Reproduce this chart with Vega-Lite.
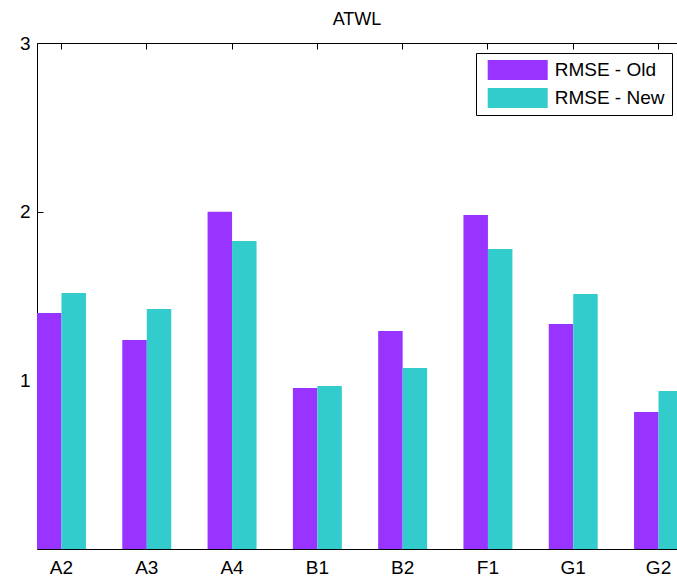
{
  "$schema": "https://vega.github.io/schema/vega-lite/v6.json",
  "width": 640,
  "height": 506,
  "autosize": {"type": "none"},
  "padding": {"left": 37, "top": 43, "right": 0, "bottom": 30},
  "background": "white",
  "title": {"text": "ATWL", "fontSize": 18, "fontWeight": "normal", "font": "Liberation Sans", "color": "black", "offset": 5},
  "config": {
    "view": {"stroke": null},
    "font": "Liberation Sans"
  },
  "data": {
    "values": [
      {"site": "A2", "series": "RMSE - Old", "value": 1.399},
      {"site": "A2", "series": "RMSE - New", "value": 1.518},
      {"site": "A3", "series": "RMSE - Old", "value": 1.239},
      {"site": "A3", "series": "RMSE - New", "value": 1.423},
      {"site": "A4", "series": "RMSE - Old", "value": 2.0},
      {"site": "A4", "series": "RMSE - New", "value": 1.826},
      {"site": "B1", "series": "RMSE - Old", "value": 0.955},
      {"site": "B1", "series": "RMSE - New", "value": 0.966},
      {"site": "B2", "series": "RMSE - Old", "value": 1.292},
      {"site": "B2", "series": "RMSE - New", "value": 1.073},
      {"site": "F1", "series": "RMSE - Old", "value": 1.98},
      {"site": "F1", "series": "RMSE - New", "value": 1.779},
      {"site": "G1", "series": "RMSE - Old", "value": 1.334},
      {"site": "G1", "series": "RMSE - New", "value": 1.512},
      {"site": "G2", "series": "RMSE - Old", "value": 0.812},
      {"site": "G2", "series": "RMSE - New", "value": 0.937}
    ]
  },
  "layer": [
    {
      "mark": {"type": "bar", "strokeWidth": 0},
      "encoding": {
        "x": {
          "field": "site",
          "type": "nominal",
          "sort": null,
          "scale": {"paddingInner": 0.426, "paddingOuter": 0, "range": [0, 646]},
          "axis": {
            "orient": "bottom",
            "title": null,
            "labelAngle": 0,
            "labelFontSize": 19,
            "labelColor": "black",
            "labelPadding": 9,
            "ticks": false,
            "domainColor": "black",
            "domainWidth": 1,
            "grid": false
          }
        },
        "xOffset": {
          "field": "series",
          "type": "nominal",
          "sort": ["RMSE - Old", "RMSE - New"],
          "scale": {"paddingInner": 0, "paddingOuter": 0}
        },
        "y": {
          "field": "value",
          "type": "quantitative",
          "scale": {"domain": [0, 3], "nice": false},
          "axis": {
            "title": null,
            "values": [1, 2, 3],
            "format": "d",
            "labelFontSize": 19,
            "labelColor": "black",
            "tickSize": -6,
            "tickColor": "black",
            "labelPadding": 13,
            "domainColor": "black",
            "domainWidth": 1,
            "grid": false
          }
        },
        "color": {
          "field": "series",
          "type": "nominal",
          "sort": ["RMSE - Old", "RMSE - New"],
          "scale": {"range": ["#9933FF", "#33CCCC"]},
          "legend": {
            "title": null,
            "orient": "none",
            "legendX": 439,
            "legendY": 10,
            "direction": "vertical",
            "symbolType": "M-0.53,-1H5.47V1H-0.53Z",
            "symbolSize": 400,
            "symbolStrokeWidth": 0,
            "symbolOpacity": 1,
            "labelFontSize": 19,
            "labelColor": "black",
            "labelOffset": 51.7,
            "labelLimit": 300,
            "rowPadding": 8,
            "padding": 7,
            "strokeColor": "black",
            "fillColor": "white",
            "cornerRadius": 0
          }
        }
      }
    },
    {
      "mark": {"type": "bar", "opacity": 0},
      "encoding": {
        "x": {
          "field": "site",
          "type": "nominal",
          "sort": null,
          "axis": {
            "orient": "top",
            "title": null,
            "labels": false,
            "tickSize": -6,
            "tickColor": "black",
            "domainColor": "black",
            "domainWidth": 1,
            "grid": false
          }
        },
        "xOffset": {
          "field": "series",
          "type": "nominal",
          "sort": ["RMSE - Old", "RMSE - New"]
        },
        "y": {"field": "value", "type": "quantitative"}
      }
    }
  ],
  "resolve": {"axis": {"x": "independent"}}
}
